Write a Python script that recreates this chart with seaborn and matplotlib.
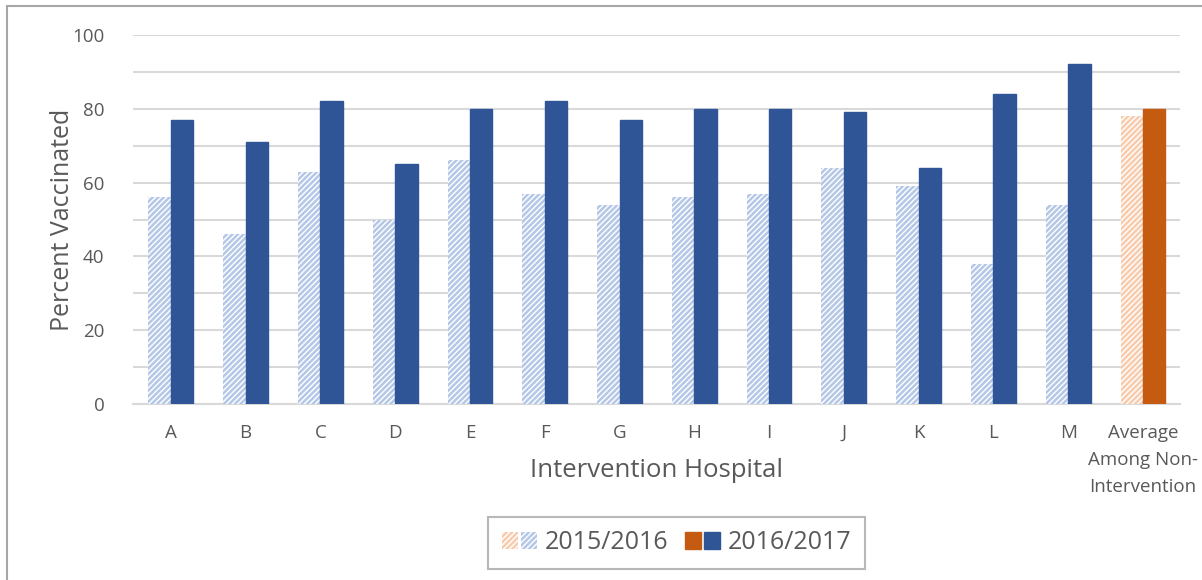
import pandas as pd
import numpy as np
import matplotlib
matplotlib.use("Agg")
import matplotlib.pyplot as plt
import seaborn as sns
from matplotlib.patches import Patch
from matplotlib.legend_handler import HandlerTuple
from matplotlib.lines import Line2D

# data
hospitals = ["A", "B", "C", "D", "E", "F", "G", "H", "I", "J", "K", "L", "M",
             "Average\nAmong Non-\nIntervention"]
pct_2015 = [56, 46, 63, 50, 66, 57, 54, 56, 57, 64, 59, 38, 54, 78]
pct_2016 = [77, 71, 82, 65, 80, 82, 77, 80, 80, 79, 64, 84, 92, 80]
seasons = ["2015/2016", "2016/2017"]

df = pd.DataFrame({
    "Hospital": hospitals * 2,
    "Percent": pct_2015 + pct_2016,
    "Season": [seasons[0]] * len(hospitals) + [seasons[1]] * len(hospitals),
})

# colours
blue_dark = "#2f5597"
blue_light = "#b4c7e7"
orange_dark = "#c55a11"
orange_light = "#f8cbad"
text_col = "#595959"
grid_col = "#d9d9d9"

sns.set_style("white")
plt.rcParams["font.family"] = ["Open Sans", "DejaVu Sans"]
plt.rcParams["hatch.linewidth"] = 1.8

fig = plt.figure(figsize=(12.02, 5.8), dpi=100)
ax = fig.add_axes([0.111, 0.303, 0.871, 0.637])

sns.barplot(data=df, x="Hospital", y="Percent", hue="Season",
            palette=[blue_light, blue_dark], width=0.6, gap=0,
            legend=False, ax=ax, zorder=3)

# style each bar (last group is the non-intervention average)
n = len(hospitals)
for i, bar in enumerate(ax.containers[0]):
    c = orange_light if i == n - 1 else blue_light
    bar.set_facecolor("white")
    bar.set_edgecolor(c)
    bar.set_hatch("//////")
    bar.set_linewidth(0)
for i, bar in enumerate(ax.containers[1]):
    c = orange_dark if i == n - 1 else blue_dark
    bar.set_facecolor(c)
    bar.set_edgecolor(c)

ax.set_ylim(0, 100)
ax.set_xlim(-0.5, n - 0.5)
ax.set_yticks(np.arange(0, 101, 20))
ax.set_yticks(np.arange(0, 101, 10), minor=True)
ax.grid(axis="y", which="both", color=grid_col, linewidth=1.5, zorder=0)
ax.set_axisbelow(True)
for s in ["left", "right", "top"]:
    ax.spines[s].set_visible(False)
ax.spines["bottom"].set_color(grid_col)
ax.spines["bottom"].set_linewidth(1.5)
ax.tick_params(axis="both", which="both", length=0, colors=text_col,
               labelsize=13.5)
ax.tick_params(axis="x", pad=14)
ax.tick_params(axis="y", pad=21)
for lbl in ax.get_xticklabels():
    lbl.set_linespacing(1.66)
    lbl.set_verticalalignment("top")

ax.set_ylabel("Percent Vaccinated", fontsize=18, color=text_col)
ax.yaxis.set_label_coords(-0.056, 0.5)
ax.set_xlabel("Intervention Hospital", fontsize=18.5, color=text_col)
ax.xaxis.set_label_coords(0.5, -0.145)

# legend with paired swatches
h1 = (Patch(facecolor="white", edgecolor=orange_light, hatch="//////", linewidth=0),
      Patch(facecolor="white", edgecolor=blue_light, hatch="//////", linewidth=0))
h2 = (Patch(facecolor=orange_dark, edgecolor=orange_dark),
      Patch(facecolor=blue_dark, edgecolor=blue_dark))
leg = fig.legend([h1, h2], seasons, loc="center",
                 bbox_to_anchor=(0.563, 0.064),
                 handler_map={tuple: HandlerTuple(ndivide=None, pad=0.12)},
                 ncol=2, fontsize=18, frameon=True, fancybox=False,
                 handlelength=1.4, handleheight=0.7, handletextpad=0.3,
                 columnspacing=0.7, borderpad=0.55)
leg.get_frame().set_edgecolor("#a6a6a6")
leg.get_frame().set_linewidth(1.5)
for t in leg.get_texts():
    t.set_color(text_col)

# outer chart border (left and top visible)
fig.add_artist(Line2D([0.006, 0.006], [0, 0.99], color="#a6a6a6", linewidth=1.5))
fig.add_artist(Line2D([0.006, 1.0], [0.99, 0.99], color="#a6a6a6", linewidth=1.5))

fig.savefig("out.png", dpi=100)
